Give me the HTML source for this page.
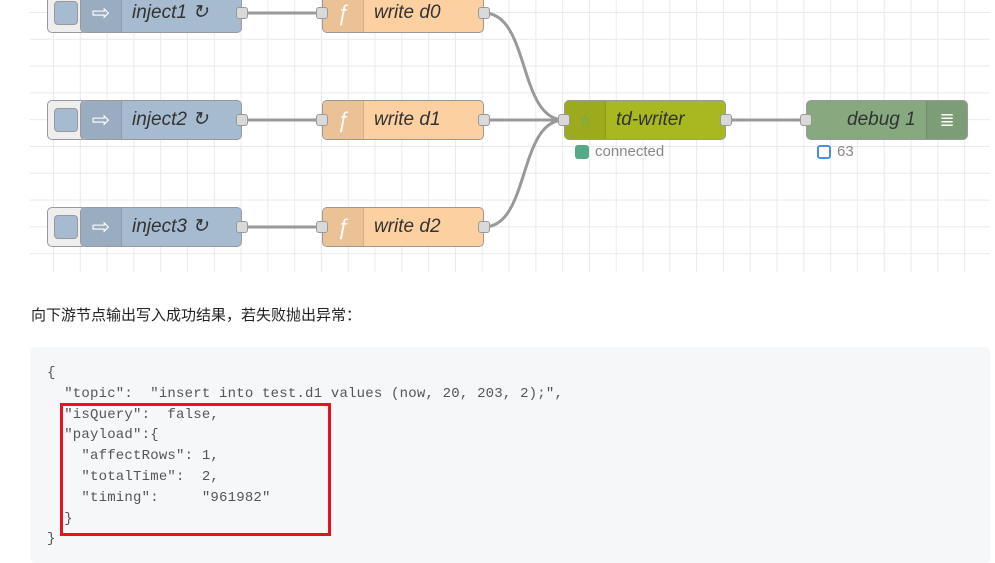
<!DOCTYPE html>
<html><head><meta charset="utf-8"><style>
body{margin:0;width:995px;height:563px;background:#fff;position:relative;overflow:hidden;font-family:"Liberation Sans",sans-serif}
.grid{position:absolute;left:30px;top:0;width:960px;height:272px;
background-image:linear-gradient(to right,#eaeaea 1px,transparent 1px),linear-gradient(to bottom,#eaeaea 1px,transparent 1px);
background-size:26.8px 26.8px;background-position:23px 12px}
.n{position:absolute;height:40px;border:1px solid #999;border-radius:5px;box-sizing:border-box;font-style:italic;font-size:19px;color:#333;line-height:38px}
.sep{position:absolute;top:0;bottom:0;width:40px;left:0;background:rgba(0,0,0,.07);border-right:1px solid rgba(0,0,0,.1);border-radius:5px 0 0 5px;color:#fff;text-align:center;font-style:normal;font-size:22px}
.p{position:absolute;width:12px;height:12px;background:#d9d9d9;border:1px solid #999;border-radius:3px;box-sizing:border-box}
.btn{position:absolute;width:40px;height:40px;background:#eee;border:1px solid #999;border-radius:5px;box-sizing:border-box}
.btn i{position:absolute;left:6px;top:7px;width:24px;height:24px;background:#a6bbcf;border:1px solid #999;border-radius:4px;box-sizing:border-box}
.code{position:absolute;left:30px;top:347px;width:960px;height:216px;background:#f6f7f9;border-radius:5px}
pre{position:absolute;left:47px;top:363px;margin:0;font-family:"Liberation Mono",monospace;font-size:14px;letter-spacing:0.2px;line-height:20.8px;color:#555}
</style></head><body>
<div class="grid"></div>
<svg style="position:absolute;left:0;top:0" width="995" height="272">
<g stroke="#999" stroke-width="3" fill="none">
<path d="M242 13H322M242 120H322M242 227H322M726 120H806M484 120H564"/>
<path d="M484 13C530 13 518 120 564 120M484 227C530 227 518 120 564 120"/>
</g></svg>
<div class="btn" style="left:47px;top:-7px"><i></i></div>
<div class="n" style="left:80px;top:-7px;width:162px;background:#a6bbcf"><div class="sep">⇨</div><span style="position:absolute;left:51px">inject1 ↻</span></div>
<div class="btn" style="left:47px;top:100px"><i></i></div>
<div class="n" style="left:80px;top:100px;width:162px;background:#a6bbcf"><div class="sep">⇨</div><span style="position:absolute;left:51px">inject2 ↻</span></div>
<div class="btn" style="left:47px;top:207px"><i></i></div>
<div class="n" style="left:80px;top:207px;width:162px;background:#a6bbcf"><div class="sep">⇨</div><span style="position:absolute;left:51px">inject3 ↻</span></div>
<div class="n" style="left:322px;top:-7px;width:162px;background:#fdd0a2"><div class="sep"><i>ƒ</i></div><span style="position:absolute;left:51px">write d0</span></div>
<div class="n" style="left:322px;top:100px;width:162px;background:#fdd0a2"><div class="sep"><i>ƒ</i></div><span style="position:absolute;left:51px">write d1</span></div>
<div class="n" style="left:322px;top:207px;width:162px;background:#fdd0a2"><div class="sep"><i>ƒ</i></div><span style="position:absolute;left:51px">write d2</span></div>
<div class="n" style="left:564px;top:100px;width:162px;background:#a8b820"><div class="sep" style="font-size:14px;color:#5a8">☆</div><span style="position:absolute;left:51px">td-writer</span></div>
<div class="n" style="left:806px;top:100px;width:162px;background:#87a980"><span style="position:absolute;left:40px">debug 1</span><div class="sep" style="left:auto;right:0;border-right:none;border-left:1px solid rgba(0,0,0,.1);border-radius:0 5px 5px 0;font-size:18px">≣</div></div>
<div class="p" style="left:236px;top:7px"></div><div class="p" style="left:316px;top:7px"></div><div class="p" style="left:478px;top:7px"></div>
<div class="p" style="left:236px;top:114px"></div><div class="p" style="left:316px;top:114px"></div><div class="p" style="left:478px;top:114px"></div>
<div class="p" style="left:236px;top:221px"></div><div class="p" style="left:316px;top:221px"></div><div class="p" style="left:478px;top:221px"></div>
<div class="p" style="left:558px;top:114px"></div><div class="p" style="left:720px;top:114px"></div><div class="p" style="left:800px;top:114px"></div>
<div style="position:absolute;left:575px;top:145px;width:14px;height:14px;background:#5a8;border-radius:3px"></div>
<div style="position:absolute;left:595px;top:143px;font-size:15px;color:#888">connected</div>
<div style="position:absolute;left:817px;top:145px;width:10px;height:10px;border:2px solid #4a90e2;border-radius:3px"></div>
<div style="position:absolute;left:837px;top:143px;font-size:15px;color:#888">63</div>
<div style="position:absolute;left:31px;top:304px;font-size:15px;color:#222;font-family:'Liberation Sans','Noto Sans CJK SC',sans-serif">向下游节点输出写入成功结果，若失败抛出异常：</div>
<div class="code"></div>
<pre>{
  "topic":  "insert into test.d1 values (now, 20, 203, 2);",
  "isQuery":  false,
  "payload":{
    "affectRows": 1,
    "totalTime":  2,
    "timing":     "961982"
  }
}</pre>
<div style="position:absolute;left:60px;top:403px;width:271px;height:133px;border:3px solid #e8121c;box-sizing:border-box"></div>
</body></html>
